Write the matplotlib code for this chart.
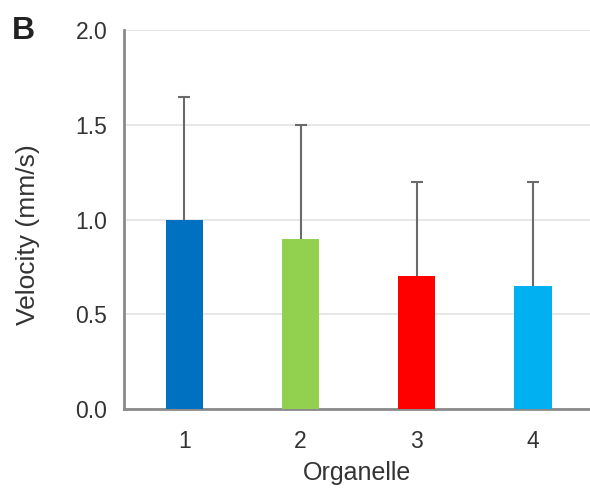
import numpy as np
import matplotlib
matplotlib.use('Agg')
from matplotlib import pyplot as plt

plt.rcParams['font.family'] = ['Liberation Sans', 'DejaVu Sans']

organelles = ['1', '2', '3', '4']
velocity = [1.0, 0.9, 0.7, 0.65]
err_upper = [0.65, 0.6, 0.5, 0.55]
colors = ['#0070C0', '#92D050', '#FF0000', '#00B0F0']

fig = plt.figure(figsize=(5.9, 4.88), dpi=100)
ax = fig.add_axes([0.21, 0.162, 0.79, 0.776])

x = np.arange(len(organelles))
ax.bar(x, velocity, width=0.32, color=colors, zorder=3)
# only the upper half of the error bar, cap only on top
tops = np.array(velocity) + np.array(err_upper)
ax.vlines(x, velocity, tops, color='#6a6a6a', linewidth=1.5, zorder=2)
ax.plot(x, tops, linestyle='none', marker='_', markersize=8, markeredgewidth=1.5,
        color='#6a6a6a', zorder=2)

ax.set_xlim(-0.52, 3.49)
ax.set_ylim(0, 2.0)
ax.set_yticks([0, 0.5, 1.0, 1.5, 2.0])
ax.set_yticklabels(['0.0', '0.5', '1.0', '1.5', '2.0'])
ax.set_xticks(x)
ax.set_xticklabels(organelles)
ax.tick_params(length=0, labelsize=16.5, colors='#333333')
ax.tick_params(axis='y', pad=12)
ax.tick_params(axis='x', pad=15)

ax.yaxis.grid(True, color='#e3e3e3', linewidth=1.2, zorder=0)
for s in ['top', 'right']:
    ax.spines[s].set_visible(False)
for s in ['left', 'bottom']:
    ax.spines[s].set_color('#8a8a8a')
    ax.spines[s].set_linewidth(2)

ax.set_ylabel('Velocity (mm/s)', fontsize=19, color='#333333')
ax.yaxis.set_label_coords(-0.18, 0.46)
ax.set_xlabel('Organelle', fontsize=18, color='#333333', labelpad=6)

fig.text(0.02, 0.92, 'B', fontsize=23, fontweight='bold', color='#222222')

fig.savefig('out.png', dpi=100)
